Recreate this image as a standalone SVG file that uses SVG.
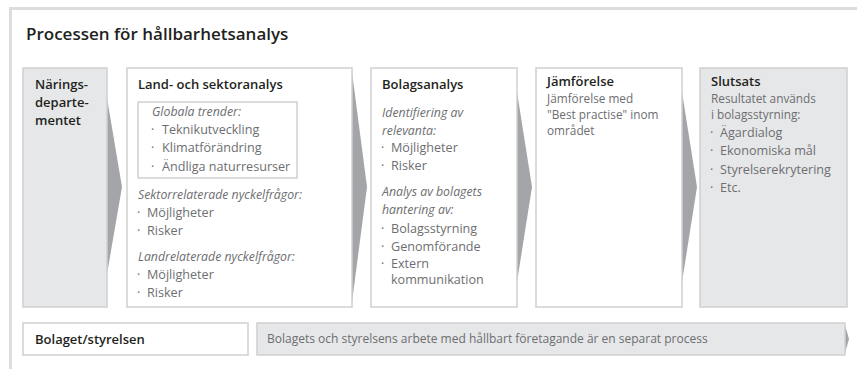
<svg xmlns="http://www.w3.org/2000/svg" width="857" height="369" viewBox="0 0 857 369">
<style>
text{font-family:"Open Sans","DejaVu Sans",sans-serif;}
.t{font-size:17px;font-weight:600;fill:#231f20;}
.h{font-size:13px;font-weight:600;fill:#231f20;}
.b{font-size:12.6px;font-weight:400;fill:#6d6e71;}
.p{font-size:11.8px;font-weight:400;fill:#6d6e71;}
.i{font-size:12.3px;font-weight:400;font-style:italic;fill:#6d6e71;}
.s{font-size:12px;fill:#6d6e71;}
.wbox{fill:#ffffff;stroke:#cfd0d1;stroke-width:1.5;}
.gbox{fill:#e6e7e8;stroke:#cfd0d1;stroke-width:1.5;}
.chev{fill:#a3a5a8;}
</style>
<rect x="0" y="0" width="857" height="369" fill="#ffffff"/>
<rect x="9" y="7" width="848" height="3" fill="#dcddde"/>
<rect x="9" y="7" width="3" height="362" fill="#dcddde"/>
<text class="t" x="26" y="40">Processen för hållbarhetsanalys</text>
<g id="connectors">
<polygon class="chev" points="107,98 122,187 107,274"/>
<polygon class="chev" points="352,72 367,187 352,302"/>
<polygon class="chev" points="297,106 303,140 297,174"/>
<polygon class="chev" points="517,92 532,187 517,282"/>
<polygon class="chev" points="682,92 697,187 682,282"/>
<polygon class="chev" points="845,325 849,339 845,353"/>
</g>
<g id="naringsdepartementet">
<rect class="gbox" x="23" y="68" width="84" height="239"/>
<text class="h" x="35" y="89">Närings-</text>
<text class="h" x="35" y="107">departe-</text>
<text class="h" x="35" y="125">mentet</text>
</g>
<g id="land">
<rect class="wbox" x="127" y="68" width="225" height="239"/>
<text class="h" x="138" y="89">Land- och sektoranalys</text>
<g id="globala">
<rect class="wbox" x="138" y="102" width="159" height="76"/>
<text class="i" x="152" y="116">Globala trender:</text>
<text class="b" x="151" y="134">·<tspan x="162">Teknikutveckling</tspan></text>
<text class="b" x="151" y="152">·<tspan x="162">Klimatförändring</tspan></text>
<text class="b" x="151" y="171">·<tspan x="162">Ändliga naturresurser</tspan></text>
</g>
<text class="i" x="138" y="199">Sektorrelaterade nyckelfrågor:</text>
<text class="b" x="137" y="217">·<tspan x="147">Möjligheter</tspan></text>
<text class="b" x="137" y="235">·<tspan x="147">Risker</tspan></text>
<text class="i" x="138" y="261">Landrelaterade nyckelfrågor:</text>
<text class="b" x="137" y="279">·<tspan x="147">Möjligheter</tspan></text>
<text class="b" x="137" y="297">·<tspan x="147">Risker</tspan></text>
</g>
<g id="bolagsanalys">
<rect class="wbox" x="371" y="68" width="146" height="239"/>
<text class="h" x="382" y="89">Bolagsanalys</text>
<text class="i" x="382" y="117">Identifiering av</text>
<text class="i" x="382" y="135">relevanta:</text>
<text class="b" x="381" y="152">·<tspan x="391">Möjligheter</tspan></text>
<text class="b" x="381" y="170">·<tspan x="391">Risker</tspan></text>
<text class="i" x="382" y="196">Analys av bolagets</text>
<text class="i" x="382" y="214">hantering av:</text>
<text class="b" x="381" y="233">·<tspan x="391">Bolagsstyrning</tspan></text>
<text class="b" x="381" y="251">·<tspan x="391">Genomförande</tspan></text>
<text class="b" x="381" y="268">·<tspan x="391">Extern</tspan></text>
<text class="b" x="391" y="284">kommunikation</text>
</g>
<g id="jamforelse">
<rect class="wbox" x="536" y="68" width="146" height="239"/>
<text class="h" x="547" y="86">Jämförelse</text>
<text class="p" x="547" y="103">Jämförelse med</text>
<text class="p" x="547" y="119">"Best practise" inom</text>
<text class="p" x="547" y="135">området</text>
</g>
<g id="slutsats">
<rect class="gbox" x="700" y="68" width="147" height="239"/>
<text class="h" x="711" y="86">Slutsats</text>
<text class="p" x="711" y="103">Resultatet används</text>
<text class="p" x="711" y="119">i bolagsstyrning:</text>
<text class="b" x="710" y="137">·<tspan x="720">Ägardialog</tspan></text>
<text class="b" x="710" y="155">·<tspan x="720">Ekonomiska mål</tspan></text>
<text class="b" x="710" y="174">·<tspan x="720">Styrelserekrytering</tspan></text>
<text class="b" x="710" y="192">·<tspan x="720">Etc.</tspan></text>
</g>
<g id="bolaget">
<rect class="wbox" x="23" y="323" width="225" height="32"/>
<text class="h" x="35" y="344">Bolaget/styrelsen</text>
</g>
<g id="separat">
<rect class="gbox" x="257" y="323" width="588" height="32"/>
<text class="s" x="267" y="343">Bolagets och styrelsens arbete med hållbart företagande är en separat process</text>
</g>
</svg>
